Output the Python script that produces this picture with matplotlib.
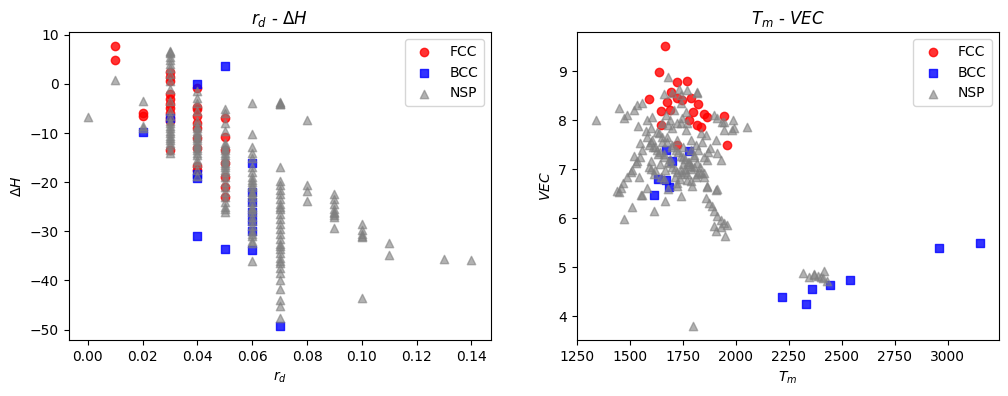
import matplotlib
matplotlib.use("Agg")
import matplotlib.pyplot as plt

# left panel: r_d vs dH, per phase
rd_fcc = [0.01, 0.01, 0.02, 0.02,
          0.03, 0.03, 0.03, 0.03, 0.03, 0.03, 0.03, 0.03, 0.03, 0.03, 0.03,
          0.04, 0.04, 0.04, 0.04, 0.04, 0.04, 0.04, 0.04, 0.04, 0.04,
          0.05, 0.05, 0.05, 0.05, 0.05, 0.05, 0.05]
dh_fcc = [7.7, 4.9, -6.0, -6.5,
          2.5, 1.5, 0.5, -2.0, -3.0, -4.0, -5.0, -6.0, -7.0, -7.5, -13.5,
          -0.8, -4.6, -5.2, -6.6, -8.0, -9.0, -11.0, -13.0, -16.8, -17.5,
          -6.9, -10.8, -13.5, -16.0, -19.0, -21.0, -23.0]

rd_bcc = [0.02, 0.03, 0.04, 0.04, 0.04, 0.04, 0.05, 0.05,
          0.06, 0.06, 0.06, 0.06, 0.06, 0.06, 0.06, 0.07]
dh_bcc = [-9.8, -6.9, 0.0, -18.3, -19.1, -31.0, 3.7, -33.6,
          -16.1, -22.0, -24.0, -26.0, -28.0, -30.0, -33.7, -49.3]

rd_nsp = ([0.00, 0.01, 0.02, 0.02, 0.02]
          + [0.03] * 26 + [0.04] * 22 + [0.05] * 26 + [0.06] * 28
          + [0.07] * 33 + [0.08] * 4 + [0.09] * 9 + [0.10] * 6
          + [0.11, 0.11, 0.13, 0.14])
dh_nsp = ([-6.7, 0.8, -3.4, -8.5, -9.0]
          + [6.8, 6.5, 6.2, 5.5, 4.8, 4.0, 3.2, 2.0, 0.5, -1.0, -3.5, -5.5,
             -6.5, -7.5, -8.0, -8.5, -9.0, -9.5, -10.0, -10.5, -11.0, -11.5,
             -12.0, -12.5, -13.5, -14.0]
          + [-1.5, -2.9, -3.8, -5.5, -7.5, -8.5, -9.0, -9.5, -10.0, -10.5,
             -11.0, -11.5, -12.0, -12.5, -13.0, -13.5, -14.0, -14.5, -15.5,
             -16.0, -17.5, -18.8]
          + [-5.2, -6.0, -8.0, -9.5, -12.0, -12.5, -13.0, -13.5, -14.0, -14.5,
             -15.0, -15.5, -16.0, -16.5, -17.0, -17.5, -18.0, -19.0, -20.0,
             -21.0, -22.0, -23.0, -24.0, -25.0, -25.5, -26.0]
          + [-3.8, -10.1, -12.8, -14.0, -15.0, -17.0, -18.0, -19.0, -19.5,
             -20.0, -20.5, -21.0, -22.0, -22.5, -23.0, -24.0, -25.0, -25.5,
             -26.0, -27.0, -28.0, -29.0, -30.0, -30.5, -31.0, -32.0, -32.3,
             -36.1]
          + [-3.7, -3.9, -4.1, -16.9, -19.8, -20.5, -21.5, -22.5, -23.5, -24.5,
             -25.0, -25.5, -26.5, -27.5, -28.5, -29.5, -30.5, -31.5, -32.5,
             -33.0, -33.5, -34.5, -35.5, -36.0, -36.5, -37.5, -38.5, -40.0,
             -41.8, -43.9, -45.2, -47.6, -4.0]
          + [-7.4, -20.5, -21.8, -23.9]
          + [-22.4, -23.5, -24.5, -25.5, -26.0, -26.3, -26.7, -27.0, -29.3]
          + [-28.6, -29.8, -30.5, -31.0, -31.2, -43.5]
          + [-32.3, -34.9, -35.6, -35.8])

# right panel: Tm vs VEC, per phase
tm_fcc = [1664, 1636, 1724, 1768, 1589, 1695, 1676, 1723, 1747, 1786, 1820,
          1644, 1688, 1797, 1849, 1865, 1943, 1817, 1833, 1644, 1956, 1723,
          1778]
vec_fcc = [9.51, 8.99, 8.78, 8.80, 8.43, 8.58, 8.38, 8.45, 8.41, 8.45, 8.33,
           8.19, 8.21, 8.17, 8.13, 8.06, 8.09, 7.90, 7.86, 7.90, 7.49, 7.50,
           8.00]

tm_bcc = [1668, 1778, 1699, 1633, 1672, 1683, 1612, 2218, 2331, 2359, 2445,
          2539, 2960, 3152]
vec_bcc = [7.39, 7.38, 7.16, 6.80, 6.77, 6.64, 6.47, 4.40, 4.26, 4.56, 4.64,
           4.74, 5.40, 5.50]

tm_nsp = [1339, 1447, 1471, 1486, 1518, 1534, 1557, 1537, 1581,
          1470, 1507, 1613, 1664, 1739, 1553, 1447, 1455, 1467, 1486, 1505,
          1526, 1546, 1541, 1581, 1557, 1865, 1909, 1857, 1872, 1888, 1896,
          1912, 1928, 1943, 1959, 1896, 1904, 1947, 1928, 1797, 1786, 1794,
          1723, 1679, 1849, 1817,
          2319, 2369, 2369, 2388, 2401, 2416, 2432, 2345, 2410,
          1988, 1991, 2051, 1943, 1936,
          1660, 1817, 1605, 1668, 1707, 1739, 1762, 1896, 1912, 1943, 1983,
          1549, 1557, 1518, 1534, 1510, 1439, 1597, 1620, 1644, 1723, 1770,
          1865, 1904, 1739, 1833, 1865, 1880, 1912, 1928, 1904, 1833, 1786,
          1762, 1676, 1636, 1605, 1573, 1625, 1715, 1739, 1801, 1817, 1688,
          1664, 1786,
          1678, 1730, 1770, 1817, 1739, 1699,
          1590, 1610, 1630, 1650, 1700, 1720, 1750, 1760, 1790, 1810, 1650,
          1680, 1700, 1740, 1760, 1780, 1600, 1640, 1660, 1690, 1710, 1750,
          1790, 1830, 1850, 1870,
          1580, 1600, 1620, 1640, 1660, 1680, 1700, 1720, 1740, 1760, 1780,
          1800, 1820, 1840, 1860, 1600, 1625, 1650, 1675, 1700, 1725, 1750,
          1775, 1800, 1825, 1850, 1590, 1615, 1660, 1710, 1735, 1770, 1810,
          1690, 1720, 1745, 1770]
vec_nsp = [8.00, 8.24, 8.04, 8.11, 8.20, 8.31, 8.34, 7.89, 8.00,
           5.99, 6.23, 6.15, 6.36, 6.45, 6.47, 6.53, 6.62, 6.72, 6.85, 6.95,
           7.12, 7.25, 6.85, 6.62, 6.48, 6.64, 6.60, 6.41, 6.31, 6.24, 6.14,
           6.04, 5.97, 5.90, 5.87, 5.85, 5.73, 5.63, 5.82, 3.80, 6.75, 6.66,
           6.72, 6.60, 6.92, 6.91,
           4.89, 4.87, 4.85, 4.82, 4.81, 4.92, 4.72, 4.80, 4.78,
           8.00, 7.83, 7.86, 7.80, 7.97,
           8.53, 8.55, 8.07, 8.11, 8.21, 8.34, 8.17, 8.11, 8.04, 7.97, 7.80,
           7.53, 7.39, 7.26, 7.16, 6.99, 6.55, 7.16, 6.99, 6.85, 6.65, 6.78,
           6.65, 6.58, 6.99, 6.92, 7.19, 7.43, 7.33, 7.19, 7.60, 7.73, 7.60,
           7.80, 7.66, 7.73, 7.60, 7.77, 7.39, 7.39, 7.26, 7.29, 7.12, 7.12,
           6.99, 7.06,
           8.88, 8.63, 8.61, 8.58, 8.51, 8.55,
           7.50, 7.45, 7.30, 7.55, 7.50, 7.60, 7.45, 7.00, 7.40, 7.50, 7.95,
           7.90, 7.85, 7.95, 7.20, 7.10, 7.00, 7.10, 7.30, 7.20, 7.00, 7.10,
           7.00, 7.05, 7.25, 7.35,
           7.65, 7.55, 7.45, 7.35, 7.25, 7.15, 7.05, 6.95, 6.90, 6.95, 7.15,
           7.25, 7.40, 7.55, 7.70, 7.85, 7.75, 7.65, 7.55, 7.45, 7.35, 7.25,
           7.15, 7.05, 6.95, 6.85, 7.05, 6.90, 6.80, 6.85, 6.80, 6.90, 6.85,
           8.00, 7.95, 8.05, 7.95]

fig, (ax1, ax2) = plt.subplots(1, 2, figsize=(10.08, 3.96))
fig.subplots_adjust(left=0.068, right=0.991, top=0.919, bottom=0.141, wspace=0.204)

ax1.scatter(rd_fcc, dh_fcc, c='r', marker='o', alpha=0.8, label='FCC')
ax1.scatter(rd_bcc, dh_bcc, c='b', marker='s', alpha=0.8, label='BCC')
ax1.scatter(rd_nsp, dh_nsp, c='gray', marker='^', alpha=0.6, label='NSP')
ax1.set_title('$r_d$ - $\\Delta H$')
ax1.set_xlabel('$r_d$')
ax1.set_ylabel('$\\Delta H$')
ax1.legend(loc='upper right')

ax2.scatter(tm_fcc, vec_fcc, c='r', marker='o', alpha=0.8, label='FCC')
ax2.scatter(tm_bcc, vec_bcc, c='b', marker='s', alpha=0.8, label='BCC')
ax2.scatter(tm_nsp, vec_nsp, c='gray', marker='^', alpha=0.6, label='NSP')
ax2.set_title('$T_m$ - $VEC$')
ax2.set_xlabel('$T_m$')
ax2.set_ylabel('$VEC$')
ax2.legend(loc='upper right')

plt.savefig('out.png', dpi=100)
